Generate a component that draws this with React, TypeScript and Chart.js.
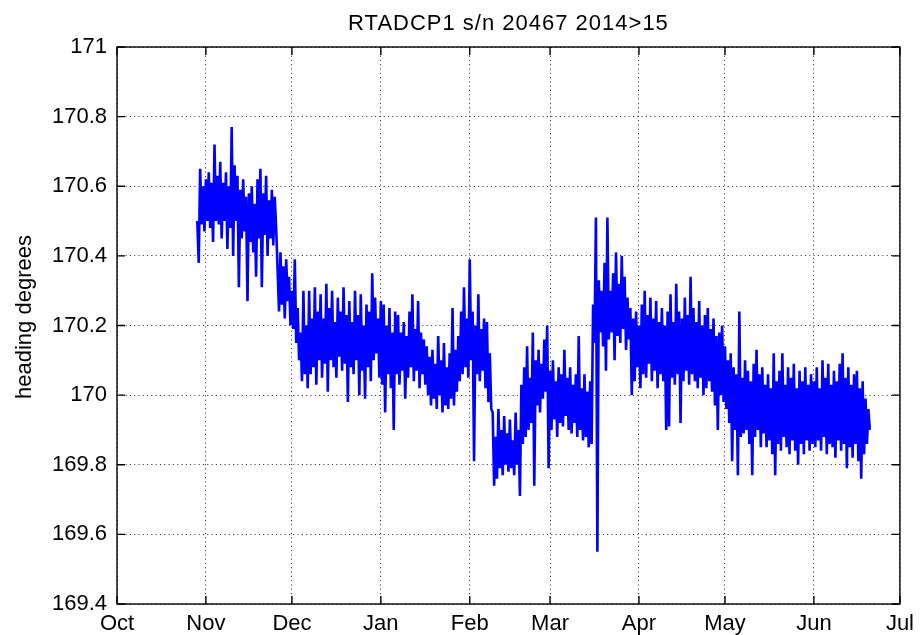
import React, { useEffect, useRef } from "react";
import { Chart, registerables } from "chart.js";

Chart.register(...registerables);

// ---- text ----
const titleText = "RTADCP1 s/n 20467 2014>15";
const yAxisTitle = "heading degrees";

// ---- axes ----
const monthLabels = ["Oct", "Nov", "Dec", "Jan", "Feb", "Mar", "Apr", "May", "Jun", "Jul"];
// day offsets from 1 Oct 2014 of each month start
const monthStartDays = [0, 31, 61, 92, 123, 151, 182, 212, 243, 273];
const yTickValues = [169.4, 169.6, 169.8, 170, 170.2, 170.4, 170.6, 170.8, 171];

// ---- data: heading (degrees), sampled every half day (alternating upper / lower excursions) ----
const sampleStepDays = 0.5;

const octFirstDay = 28;
const octHeading = [170.50, 170.38, 170.65, 170.49, 170.60, 170.47];

const novFirstDay = 31;
const novHeading = [
  170.62, 170.50, 170.64, 170.48, 170.61, 170.44, 170.72, 170.50, 170.63, 170.49,
  170.67, 170.45, 170.61, 170.50, 170.64, 170.42, 170.60, 170.48, 170.77, 170.40,
  170.66, 170.50, 170.63, 170.31, 170.59, 170.45, 170.62, 170.47, 170.57, 170.27,
  170.58, 170.44, 170.60, 170.41, 170.55, 170.34, 170.62, 170.45, 170.65, 170.31,
  170.58, 170.46, 170.63, 170.40, 170.56, 170.45, 170.59, 170.43, 170.57, 170.48,
  170.36, 170.24, 170.41, 170.26, 170.37, 170.22, 170.39, 170.27, 170.34, 170.20,
];

const decFirstDay = 61;
const decHeading = [
  170.30, 170.19, 170.39, 170.15, 170.25, 170.10, 170.18, 170.04, 170.30, 170.06,
  170.20, 170.02, 170.30, 170.06, 170.22, 170.08, 170.31, 170.03, 170.24, 170.10,
  170.29, 170.05, 170.22, 170.09, 170.32, 170.01, 170.25, 170.10, 170.30, 170.08,
  170.21, 170.05, 170.28, 170.11, 170.24, 170.07, 170.31, 170.09, 170.23, 169.98,
  170.27, 170.08, 170.21, 170.06, 170.30, 170.10, 170.23, 170.00, 170.29, 170.07,
  170.20, 169.99, 170.26, 170.08, 170.24, 170.04, 170.35, 170.10, 170.28, 170.12,
  170.22, 170.05,
];

const janFirstDay = 92;
const janHeading = [
  170.27, 170.03, 170.26, 169.95, 170.20, 170.06, 170.25, 170.02, 170.18, 169.90,
  170.24, 170.06, 170.23, 170.03, 170.18, 170.07, 170.21, 169.99, 170.17, 170.05,
  170.24, 170.08, 170.29, 170.04, 170.19, 170.07, 170.27, 170.02, 170.18, 170.06,
  170.16, 170.03, 170.14, 170.00, 170.11, 169.97, 170.13, 169.99, 170.09, 169.96,
  170.17, 170.00, 170.10, 169.95, 170.15, 169.97, 170.08, 169.96, 170.12, 169.99,
  170.25, 169.97, 170.13, 170.01, 170.17, 170.04, 170.24, 170.06, 170.31, 170.08,
  170.22, 170.05,
];

const febFirstDay = 123;
const febHeading = [
  170.39, 170.10, 170.24, 169.81, 170.20, 170.06, 170.29, 170.04, 170.19, 170.07,
  170.22, 170.02, 170.21, 169.98, 170.12, 169.96, 169.95, 169.74, 169.88, 169.76,
  169.96, 169.79, 169.90, 169.77, 169.94, 169.80, 169.89, 169.78, 169.93, 169.79,
  169.87, 169.77, 169.95, 169.80, 169.90, 169.71, 170.03, 169.86, 170.08, 169.88,
  170.14, 169.90, 170.05, 169.92, 170.18, 169.74, 170.10, 169.97, 170.13, 169.95,
  170.09, 169.99, 170.16, 170.01, 170.20, 169.79,
];

const marFirstDay = 151;
const marHeading = [
  170.07, 169.90, 170.10, 169.93, 170.04, 169.88, 170.08, 169.92, 170.06, 169.91,
  170.13, 169.94, 170.05, 169.90, 170.08, 169.89, 170.03, 169.92, 170.06, 169.88,
  170.17, 169.90, 170.02, 169.87, 170.06, 169.88, 170.01, 169.85, 170.04, 169.86,
  170.26, 170.15, 170.51, 169.55, 170.33, 170.18, 170.30, 170.14, 170.38, 170.07,
  170.51, 170.16, 170.30, 170.18, 170.35, 170.10, 170.41, 170.17, 170.32, 170.15,
  170.40, 170.19, 170.34, 170.13, 170.28, 170.16, 170.25, 170.00, 170.22, 170.04,
  170.24, 170.08,
];

const aprFirstDay = 182;
const aprHeading = [
  170.20, 170.02, 170.26, 170.06, 170.30, 170.05, 170.23, 170.09, 170.28, 170.04,
  170.22, 170.07, 170.27, 170.02, 170.21, 170.06, 170.25, 170.04, 170.20, 169.90,
  170.24, 169.91, 170.29, 170.05, 170.21, 170.03, 170.32, 170.06, 170.24, 169.92,
  170.22, 170.04, 170.28, 170.07, 170.23, 170.03, 170.34, 170.06, 170.25, 170.04,
  170.21, 170.02, 170.27, 170.05, 170.20, 170.00, 170.23, 170.02, 170.25, 170.04,
  170.19, 170.01, 170.22, 169.97, 170.17, 169.90, 170.18, 170.00, 170.20, 169.98,
];

const mayFirstDay = 212;
const mayHeading = [
  170.14, 169.96, 170.10, 169.92, 170.12, 169.81, 170.08, 169.90, 170.06, 169.77,
  170.24, 169.88, 170.05, 169.89, 170.10, 169.90, 170.07, 169.86, 170.04, 169.77,
  170.09, 169.88, 170.13, 169.90, 170.06, 169.85, 170.08, 169.89, 170.03, 169.85,
  170.06, 169.87, 170.02, 169.83, 170.12, 169.77, 170.04, 169.86, 170.07, 169.84,
  170.12, 169.88, 170.03, 169.85, 170.08, 169.83, 170.05, 169.87, 170.09, 169.84,
  170.02, 169.80, 170.07, 169.86, 170.04, 169.83, 170.08, 169.87, 170.03, 169.84,
  170.06, 169.86,
];

const junFirstDay = 243;
const junHeading = [
  170.04, 169.85, 170.08, 169.87, 170.02, 169.84, 170.10, 169.88, 170.05, 169.83,
  170.09, 169.86, 170.03, 169.85, 170.07, 169.82, 170.04, 169.87, 170.09, 169.84,
  170.12, 169.86, 170.05, 169.79, 170.08, 169.85, 170.03, 169.82, 170.06, 169.86,
  170.07, 169.81, 170.02, 169.76, 170.04, 169.83, 169.99, 169.86, 169.96, 169.90,
];

const monthSeries = [
  { firstDay: octFirstDay, values: octHeading },
  { firstDay: novFirstDay, values: novHeading },
  { firstDay: decFirstDay, values: decHeading },
  { firstDay: janFirstDay, values: janHeading },
  { firstDay: febFirstDay, values: febHeading },
  { firstDay: marFirstDay, values: marHeading },
  { firstDay: aprFirstDay, values: aprHeading },
  { firstDay: mayFirstDay, values: mayHeading },
  { firstDay: junFirstDay, values: junHeading },
];

const FONT_FAMILY = "'Liberation Sans', Arial, Helvetica, sans-serif";

const matlabFrame = {
  id: "matlabFrame",
  afterDatasetsDraw(chart: any) {
    const { ctx, chartArea, scales } = chart;
    const { left, right, top, bottom } = chartArea;
    const xs = scales.x;
    const ys = scales.y;
    ctx.save();
    ctx.setLineDash([]);
    ctx.strokeStyle = "#000";
    ctx.lineWidth = 1.4;
    ctx.strokeRect(left, top, right - left, bottom - top);
    const tickLen = 8;
    ctx.beginPath();
    xs.ticks.forEach((t: any) => {
      const px = xs.getPixelForValue(t.value);
      ctx.moveTo(px, bottom);
      ctx.lineTo(px, bottom - tickLen);
      ctx.moveTo(px, top);
      ctx.lineTo(px, top + tickLen);
    });
    ys.ticks.forEach((t: any) => {
      const py = ys.getPixelForValue(t.value);
      ctx.moveTo(left, py);
      ctx.lineTo(left + tickLen, py);
      ctx.moveTo(right, py);
      ctx.lineTo(right - tickLen, py);
    });
    ctx.stroke();

    // title
    ctx.fillStyle = "#000";
    ctx.font = `22px ${FONT_FAMILY}`;
    (ctx as any).letterSpacing = "1px";
    ctx.textAlign = "center";
    ctx.textBaseline = "alphabetic";
    ctx.fillText(titleText, (left + right) / 2, 30);
    (ctx as any).letterSpacing = "0px";

    // y axis title
    ctx.translate(25, 317);
    ctx.rotate(-Math.PI / 2);
    ctx.textBaseline = "middle";
    ctx.fillText(yAxisTitle, 0, 0);
    ctx.restore();
  },
};

export default function App() {
  const canvasRef = useRef<HTMLCanvasElement>(null);

  useEffect(() => {
    const points = monthSeries.flatMap(({ firstDay, values }) =>
      values.map((v, i) => ({ x: firstDay + i * sampleStepDays, y: v }))
    );

    const gridStyle = {
      color: "rgba(0,0,0,0.85)",
      lineWidth: 1,
      drawTicks: false,
    };

    const chart = new Chart(canvasRef.current as HTMLCanvasElement, {
      type: "line",
      data: {
        datasets: [
          {
            data: points,
            borderColor: "#0000ff",
            borderWidth: 2.6,
            borderJoinStyle: "miter",
            pointRadius: 0,
            tension: 0,
            fill: false,
          },
        ],
      },
      options: {
        responsive: false,
        maintainAspectRatio: false,
        animation: false,
        events: [],
        layout: { padding: { left: 0, right: 17, top: 47, bottom: 0 } },
        plugins: {
          legend: { display: false },
          title: { display: false },
          tooltip: { enabled: false },
        },
        scales: {
          x: {
            type: "linear",
            min: monthStartDays[0],
            max: monthStartDays[monthStartDays.length - 1],
            afterBuildTicks: (scale: any) => {
              scale.ticks = monthStartDays.map((v) => ({ value: v }));
            },
            afterFit: (scale: any) => {
              scale.height = 31;
            },
            grid: gridStyle,
            border: { display: false, dash: [1, 3.3] },
            ticks: {
              autoSkip: false,
              maxRotation: 0,
              padding: 7,
              color: "#000",
              font: { family: FONT_FAMILY, size: 22 },
              callback: (value: any) => {
                const idx = monthStartDays.indexOf(Number(value));
                return idx >= 0 ? monthLabels[idx] : "";
              },
            },
          },
          y: {
            type: "linear",
            min: yTickValues[0],
            max: yTickValues[yTickValues.length - 1],
            afterBuildTicks: (scale: any) => {
              scale.ticks = yTickValues.map((v) => ({ value: v }));
            },
            afterFit: (scale: any) => {
              scale.width = 117;
            },
            grid: gridStyle,
            border: { display: false, dash: [1, 3.3] },
            ticks: {
              padding: 10,
              color: "#000",
              font: { family: FONT_FAMILY, size: 22 },
              callback: (value: any) => String(Number(Number(value).toFixed(1))),
            },
          },
        },
      },
      plugins: [matlabFrame],
    } as any);

    return () => chart.destroy();
  }, []);

  return (
    <div
      style={{
        position: "fixed",
        left: 0,
        top: 0,
        width: 921,
        height: 635,
        background: "#fff",
      }}
    >
      <canvas ref={canvasRef} width={921} height={635} style={{ display: "block", width: 921, height: 635 }} />
    </div>
  );
}
